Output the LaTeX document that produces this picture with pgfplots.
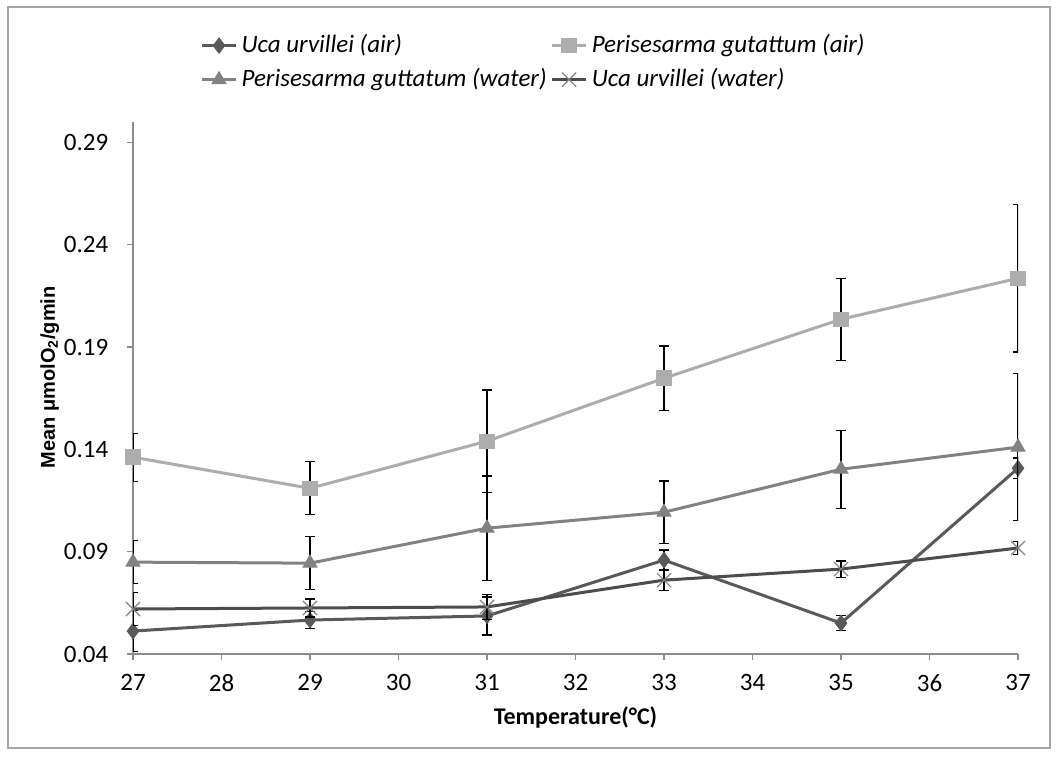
\documentclass[border=0pt]{standalone}
\usepackage{fontspec}
\setmainfont{Carlito}
\newfontfamily\arialfont{Liberation Sans}
\usepackage{pgfplots}
\pgfplotsset{compat=1.18}

\definecolor{ucaair}{HTML}{595959}
\definecolor{pgair}{HTML}{ADADAD}
\definecolor{pgwater}{HTML}{828282}
\definecolor{ucawater}{HTML}{4D4D4D}
\definecolor{axisgray}{HTML}{8C8C8C}
\definecolor{framegray}{HTML}{A6A6A6}

\begin{document}
\fontsize{12.5}{15}\selectfont
\begin{tikzpicture}
\useasboundingbox (0,0) rectangle (529pt,378pt);
\draw[framegray, line width=1pt] (4pt,4pt) rectangle (525pt,374.5pt);
\begin{axis}[
  at={(66.5pt,51pt)}, anchor=south west,
  scale only axis, width=442.5pt, height=266pt,
  xmin=27, xmax=37, ymin=0.04, ymax=0.30,
  xtick={27,28,...,37},
  ytick={0.04,0.09,0.14,0.19,0.24,0.29},
  axis x line=bottom, axis y line=left,
  axis line style={axisgray, line width=0.8pt, -},
  tick style={axisgray, line width=0.6pt},
  tick align=outside, major tick length=3pt,
  /pgf/number format/assume math mode=true,
  yticklabel style={/pgf/number format/.cd, fixed, precision=2, zerofill, /tikz/.cd, xshift=-5pt},
  xticklabel style={yshift=-3pt},
  xlabel={\bfseries\fontsize{12}{14}\selectfont Temperature(°C)},
  xlabel style={at={(axis description cs:0.5,-0.12)}, anchor=center},
  ylabel={\arialfont\bfseries\fontsize{10}{12}\selectfont Mean μmolO\textsubscript{2}/gmin},
  ylabel style={at={(axis description cs:-0.094,0.52)}, anchor=center},
  clip mode=individual,
  legend columns=2,
  legend style={at={(0.069,1.18)}, anchor=north west, draw=none, fill=none,
    font=\itshape, row sep=2pt, column sep=0pt,
    /tikz/every even column/.append style={column sep=0pt}},
  legend cell align=left,
  error bars/y dir=both, error bars/y explicit,
  error bars/error bar style={black, line width=0.6pt},
  error bars/error mark options={rotate=90, mark size=2.5pt, black, line width=0.6pt},
]

% Uca urvillei (air)
\addplot[ucaair, line width=1.5pt, mark=diamond*, mark size=3.8pt,
  mark options={fill=ucaair, line width=0.5pt}]
  table[x=T, y=M, y error=E] {
T M E
27 0.0512 0.0100
29 0.0566 0.0040
31 0.0586 0.0093
33 0.0859 0.0049
35 0.0551 0.0037
37 0.1308 0.0050
};
\addlegendentry{Uca urvillei (air)}

% Perisesarma gutattum (air)
\addplot[pgair, line width=1.5pt, mark=square*, mark size=3.6pt,
  mark options={fill=pgair, line width=0.5pt}]
  table[x=T, y=M, y error=E] {
T M E
27 0.1362 0.0117
29 0.1210 0.0130
31 0.1440 0.0250
33 0.1748 0.0157
35 0.2036 0.0200
37 0.2236 0.0360
};
\addlegendentry{Perisesarma gutattum (air)}

% Perisesarma guttatum (water)
\addplot[pgwater, line width=1.5pt, mark=triangle*, mark size=4pt,
  mark options={fill=pgwater, line width=0.5pt}]
  table[x=T, y=M, y error=E] {
T M E
27 0.0849 0.0105
29 0.0844 0.0130
31 0.1015 0.0255
33 0.1093 0.0153
35 0.1303 0.0190
37 0.1411 0.0360
};
\addlegendentry{Perisesarma guttatum (water)}

% Uca urvillei (water)
\addplot[ucawater, line width=1.5pt, mark=x, mark size=5pt,
  mark options={draw=pgwater, line width=0.6pt}]
  table[x=T, y=M, y error=E] {
T M E
27 0.0620 0.0080
29 0.0625 0.0044
31 0.0630 0.0060
33 0.0761 0.0050
35 0.0815 0.0040
37 0.0918 0.0030
};
\addlegendentry{Uca urvillei (water)}

\end{axis}
\end{tikzpicture}
\end{document}
